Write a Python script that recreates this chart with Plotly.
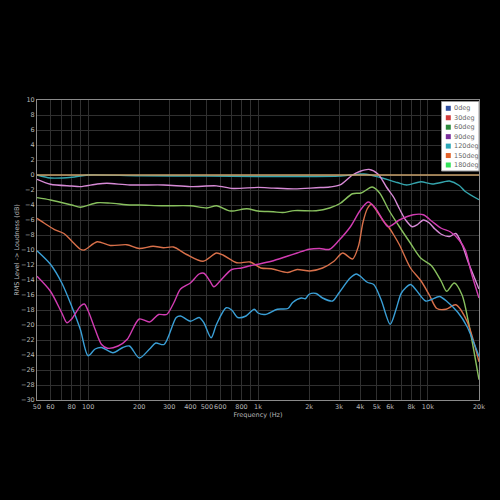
import plotly.graph_objects as go

# ---------------- data ----------------
f_0 = [50, 20000]
db_0 = [0, 0]

f_30 = [50, 60, 80, 100, 200, 500, 1000, 2000, 3000, 4200, 5200, 6600, 7500, 9100, 10600, 12800, 13400, 15300, 16600, 20000]
db_30 = [0, -0.4, -0.3, 0, -0.12, -0.15, -0.2, -0.2, -0.15, 0.13, -0.3, -1.0, -1.33, -0.9, -1.2, -0.85, -0.8, -1.4, -2.2, -3.3]

f_60 = [50, 60, 80, 90, 113, 129, 176, 278, 400, 570, 712, 1000, 1230, 1640, 2200, 2640, 3040, 3600, 4000, 4500, 5100,
        5700, 6300, 6800, 7400, 8100, 8700, 9400, 10200, 11000, 12000, 13400, 14600, 15900, 17400, 20000]
db_60 = [-0.58, -1.24, -1.47, -1.55, -1.2, -1.1, -1.33, -1.33, -1.55, -1.45, -1.8, -1.65, -1.75, -1.85, -1.7, -1.6, -1.33,
         0, 0.5, 0.75, 0.1, -1.6, -3.0, -4.5, -6.0, -6.9, -6.6, -6.0, -6.4, -7.2, -7.9, -8.2, -7.8, -9.3, -11.8, -15.2]

f_90 = [50, 60, 80, 90, 113, 135, 176, 200, 278, 400, 500, 570, 690, 860, 1000, 1230, 1400, 1640, 2200, 2640, 3040, 3600,
        4050, 4700, 5200, 5900, 6800, 7900, 9100, 10500, 12000, 12900, 14300, 15900, 17400, 20000]
db_90 = [-3.02, -3.33, -4.0, -4.3, -3.7, -3.75, -4.0, -4.0, -4.1, -4.1, -4.4, -4.1, -4.8, -4.5, -4.8, -4.9, -5.0, -4.75,
         -4.76, -4.4, -3.8, -2.5, -2.4, -1.6, -2.4, -4.7, -6.9, -9.1, -11.1, -12.1, -14.2, -15.5, -14.4, -16.0, -19.8, -27.3]

f_120 = [50, 55, 63, 72, 80, 90, 95, 113, 135, 169, 200, 241, 278, 318, 380, 475, 570, 625, 750, 900, 1040, 1200, 1500,
         1700, 2020, 2400, 2800, 3150, 3600, 3900, 4150, 4400, 4650, 5000, 5500, 5900, 6300, 6800, 7900, 9100, 10200,
         11300, 12800, 14600, 17000, 20000]
db_120 = [-5.78, -6.4, -7.24, -7.8, -8.8, -9.9, -10.0, -8.9, -9.4, -9.3, -9.8, -9.5, -9.7, -9.6, -10.6, -11.5, -10.4,
          -10.7, -11.7, -11.6, -12.4, -12.5, -13.0, -12.6, -12.8, -12.4, -11.5, -10.4, -11.2, -9.5, -6.3, -4.5, -3.9,
          -4.8, -6.2, -7.0, -8.0, -9.3, -12.4, -14.1, -16.0, -17.8, -17.9, -17.3, -19.5, -24.9]

f_150 = [50, 60, 70, 80, 90, 100, 110, 120, 140, 160, 175, 200, 230, 250, 280, 330, 350, 400, 450, 480, 530, 570, 650,
         700, 760, 850, 950, 1000, 1100, 1300, 1500, 1600, 1800, 1900, 2000, 2200, 2400, 2750, 3000, 3500, 3800, 4000,
         4400, 4800, 5300, 6000, 6500, 7000, 7900, 8500, 9700, 10500, 11700, 13000, 15000, 17000, 20000]
db_150 = [-10.1, -11.9, -14.4, -17.5, -20.6, -24.1, -23.2, -23.0, -23.7, -23.0, -22.8, -24.4, -23.2, -22.4, -22.6,
          -19.0, -18.8, -19.5, -19.0, -19.7, -21.7, -19.9, -17.7, -18.0, -19.0, -18.8, -17.9, -18.4, -18.6, -17.9,
          -17.8, -17.0, -16.4, -16.5, -15.9, -15.8, -16.4, -16.8, -15.7, -13.7, -13.2, -13.5, -14.3, -14.6, -16.6,
          -19.9, -17.9, -15.7, -14.6, -15.3, -16.8, -16.6, -16.2, -16.9, -18.3, -20.2, -24.2]

f_180 = [50, 60, 70, 75, 80, 90, 95, 100, 110, 120, 130, 150, 170, 200, 230, 260, 290, 320, 350, 400, 450, 480, 520,
         550, 600, 700, 800, 900, 1000, 1200, 1500, 1700, 2000, 2300, 2640, 3000, 3500, 4000, 4450, 4900, 5500, 5850,
         6800, 8200, 9400, 10600, 12000, 13600, 15300, 16600, 18000, 20000]
db_180 = [-13.5, -15.5, -18.4, -19.7, -19.2, -17.5, -17.2, -18.1, -20.6, -22.6, -23.1, -22.8, -21.9, -19.2, -19.6,
          -18.6, -18.6, -17.0, -15.2, -14.4, -13.2, -13.1, -14.1, -14.9, -14.1, -12.6, -12.4, -12.1, -11.9, -11.5,
          -10.8, -10.4, -9.9, -9.8, -9.9, -8.7, -6.9, -4.7, -3.6, -4.4, -6.2, -6.9, -6.0, -5.3, -5.3, -6.2, -7.1,
          -7.6, -8.7, -10.0, -13.0, -16.4]

series_names = ["0deg", "30deg", "60deg", "90deg", "120deg", "150deg", "180deg"]
legend_colors = ["#2f4f9f", "#d23a3a", "#2c8a3c", "#7b2f9c", "#2aa7b8", "#e2622a", "#35e35a"]
line_colors = ["#c8a06a", "#35a5ad", "#d78ad6", "#88c05e", "#d8704a", "#3a9fd6", "#d23cb2"]
freqs = [f_0, f_30, f_60, f_90, f_120, f_150, f_180]
levels = [db_0, db_30, db_60, db_90, db_120, db_150, db_180]

x_tickvals = [50, 60, 70, 80, 90, 100, 200, 300, 400, 500, 600, 700, 800, 900, 1000, 2000, 3000, 4000, 5000, 6000,
              7000, 8000, 9000, 10000, 20000]
x_ticktext = ["50", "60", "", "80", "", "100", "200", "300", "400", "500", "600", "", "800", "", "1k", "2k", "3k",
              "4k", "5k", "6k", "", "8k", "", "10k", "20k"]

fig = go.Figure()
# draw the 0deg reference line last so it sits on top
order = [1, 2, 3, 4, 5, 6, 0]
for i in order:
    fig.add_trace(go.Scatter(x=freqs[i], y=levels[i], mode="lines", name=series_names[i], showlegend=False,
                             line=dict(color=line_colors[i], width=1.4, shape="spline", smoothing=0.8)))

axis_common = dict(showgrid=True, gridcolor="#303030", gridwidth=1, zeroline=False,
                   showline=True, linecolor="#8a8a8a", linewidth=1, mirror=True,
                   tickfont=dict(family="DejaVu Sans", size=6.5, color="#b8b8b8"), ticks="")

fig.update_xaxes(type="log", range=[1.69897, 4.30103], tickvals=x_tickvals, ticktext=x_ticktext, tickangle=0,
                 title=dict(text="Frequency (Hz)", font=dict(family="DejaVu Sans", size=6.5, color="#b8b8b8"),
                            standoff=0), **axis_common)
fig.update_yaxes(range=[-30, 10], dtick=2, tick0=0,
                 title=dict(text="RMS Level -> Loudness (dB)", font=dict(family="DejaVu Sans", size=6.5, color="#b8b8b8"),
                            standoff=0), **axis_common)

# ---- custom compact legend (paper coordinates of the plot area) ----
L, R, T, B = 37.0, 479.0, 100.0, 400.0
def px(x):
    return (x - L) / (R - L)
def py(y):
    return (B - y) / (B - T)

shapes = [dict(type="rect", xref="paper", yref="paper", x0=px(441.5), x1=px(479), y0=py(171), y1=py(101.5),
               fillcolor="white", line=dict(color="#9a9a9a", width=1), layer="above")]
annotations = []
for k, (name, c) in enumerate(zip(series_names, legend_colors)):
    yc = 108.3 + k * 9.45
    shapes.append(dict(type="rect", xref="paper", yref="paper", x0=px(445.8), x1=px(450.8),
                       y0=py(yc + 2.5), y1=py(yc - 2.5), fillcolor=c, line=dict(color=c, width=0), layer="above"))
    annotations.append(dict(xref="paper", yref="paper", x=px(451.8), y=py(yc), text=name, showarrow=False,
                            xanchor="left", yanchor="middle",
                            font=dict(family="DejaVu Sans", size=6.5, color="#666666")))

fig.update_layout(
    width=500, height=500,
    paper_bgcolor="black", plot_bgcolor="black",
    margin=dict(l=37, r=21, t=100, b=100),
    showlegend=False,
    shapes=shapes, annotations=annotations,
)

fig.write_html("out.html", config={"displayModeBar": False},
               post_script="document.body.style.margin='0';document.body.style.background='black';")
